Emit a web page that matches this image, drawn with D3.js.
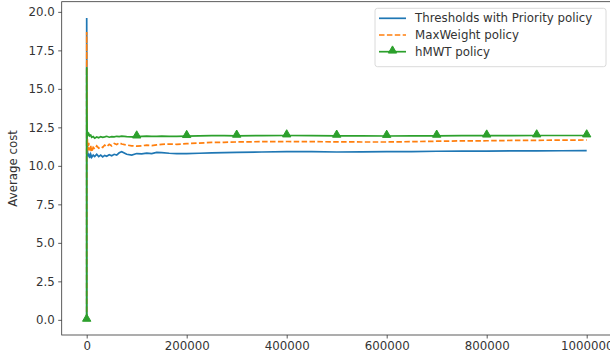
<!DOCTYPE html>
<html>
<head>
<meta charset="utf-8">
<script src="https://cdn.jsdelivr.net/npm/d3@7"></script>
<style>
  body { margin: 0; background: #fff; }
  svg { display: block; font-family: "DejaVu Sans", sans-serif; }
</style>
</head>
<body>
<div id="chart"></div>
<script>
// simulation step at which the running average was recorded
const steps = [
  0, 1, 300, 800, 1500, 2500, 4000, 6000, 8000, 10000,
  13000, 16000, 20000, 24000, 28000, 32000, 36000, 40000, 45000, 50000,
  55000, 60000, 65000, 70000, 80000, 90000, 100000, 110000, 120000, 130000,
  140000, 150000, 165000, 180000, 200000, 225000, 250000, 275000, 300000, 350000,
  400000, 450000, 500000, 550000, 600000, 650000, 700000, 750000, 800000, 850000,
  900000, 950000, 1000000
];

const thresholdsCost = [
  0, 19.6, 13.0, 11.6, 11.0, 10.6, 10.8, 10.5, 10.75, 10.55,
  10.7, 10.6, 10.75, 10.6, 10.7, 10.58, 10.68, 10.62, 10.72, 10.65,
  10.75, 10.7, 10.85, 10.92, 10.75, 10.7, 10.8, 10.78, 10.82, 10.8,
  10.88, 10.86, 10.82, 10.8, 10.8, 10.82, 10.84, 10.86, 10.88, 10.9,
  10.92, 10.93, 10.9, 10.91, 10.92, 10.93, 10.95, 10.96, 10.96, 10.97,
  10.97, 10.98, 10.99
];

const maxWeightCost = [
  0, 18.7, 15.0, 12.5, 11.5, 11.0, 11.5, 11.0, 11.3, 10.9,
  11.2, 11.1, 11.3, 11.15, 11.25, 11.2, 11.35, 11.25, 11.4, 11.3,
  11.45, 11.38, 11.5, 11.42, 11.35, 11.3, 11.28, 11.3, 11.35, 11.32,
  11.36, 11.4, 11.42, 11.4, 11.44, 11.48, 11.52, 11.53, 11.55, 11.57,
  11.58, 11.57, 11.56, 11.55, 11.55, 11.57, 11.6, 11.62, 11.63, 11.65,
  11.66, 11.67, 11.68
];

const hmwtCost = [
  0, 16.4, 13.5, 12.2, 12.15, 12.0, 12.1, 11.95, 12.0, 11.85,
  11.9, 11.8, 11.88, 11.82, 11.9, 11.85, 11.88, 11.92, 11.86, 11.9,
  11.88, 11.92, 11.9, 11.93, 11.9, 11.88, 11.9, 11.92, 11.93, 11.91,
  11.92, 11.93, 11.92, 11.91, 11.93, 11.95, 11.96, 11.96, 11.95, 11.96,
  11.97, 11.96, 11.95, 11.95, 11.94, 11.95, 11.95, 11.96, 11.96, 11.96,
  11.97, 11.97, 11.97
];

const seriesNames = ["Thresholds with Priority policy", "MaxWeight policy", "hMWT policy"];
const xTicks = [0, 200000, 400000, 600000, 800000, 1000000];
const yTicks = [0, 2.5, 5, 7.5, 10, 12.5, 15, 17.5, 20];

const width = 610;
const height = 364;
const plot = { left: 61.7, right: 611.7, top: 1.7, bottom: 335 };
const fontSize = 11.8;

const svg = d3.select("#chart").append("svg")
  .attr("width", width)
  .attr("height", height);

const x = d3.scaleLinear().domain([-50000, 1050000]).range([plot.left, plot.right]);
const y = d3.scaleLinear().domain([-0.984, 20.66]).range([plot.bottom, plot.top]);

// axes
const xAxis = svg.append("g")
  .attr("transform", `translate(0, ${plot.bottom})`)
  .call(d3.axisBottom(x).tickValues(xTicks).tickFormat(d3.format("d")).tickSize(3.5).tickPadding(3.5));
const yAxis = svg.append("g")
  .attr("transform", `translate(${plot.left}, 0)`)
  .call(d3.axisLeft(y).tickValues(yTicks).tickFormat(d3.format(".1f")).tickSize(3.5).tickPadding(3.5));

[xAxis, yAxis].forEach(g => {
  g.select(".domain").remove();
  g.selectAll(".tick line").attr("stroke", "#333").attr("stroke-width", 0.8);
  g.selectAll(".tick text").attr("fill", "#333").attr("font-size", fontSize).attr("font-family", "DejaVu Sans, sans-serif");
});

// spines (right one falls outside the picture)
svg.append("rect")
  .attr("x", plot.left).attr("y", plot.top)
  .attr("width", plot.right - plot.left).attr("height", plot.bottom - plot.top)
  .attr("fill", "none").attr("stroke", "#333").attr("stroke-width", 0.8);

svg.append("text")
  .attr("transform", `translate(13, ${(plot.top + plot.bottom) / 2}) rotate(-90)`)
  .attr("text-anchor", "middle")
  .attr("dy", "0.35em")
  .attr("font-size", fontSize)
  .attr("fill", "#333")
  .text("Average cost");

const series = [
  { name: seriesNames[0], values: thresholdsCost, color: "#1f77b4", dash: null, marker: false },
  { name: seriesNames[1], values: maxWeightCost, color: "#ff7f0e", dash: "5.5,2.4", marker: false },
  { name: seriesNames[2], values: hmwtCost, color: "#2ca02c", dash: null, marker: true }
];

const line = d3.line()
  .x(d => x(d[0]))
  .y(d => y(d[1]));

const tri = d3.symbol().type(d3.symbolTriangle).size(30);

series.forEach(s => {
  const pts = steps.map((st, i) => [st, s.values[i]]);
  svg.append("path")
    .datum(pts)
    .attr("d", line)
    .attr("fill", "none")
    .attr("stroke", s.color)
    .attr("stroke-width", 1.7)
    .attr("stroke-dasharray", s.dash);

  if (s.marker) {
    // one marker every 100000 steps
    svg.selectAll(null)
      .data(pts.filter(d => d[0] % 100000 === 0))
      .enter().append("path")
      .attr("d", tri)
      .attr("transform", d => `translate(${x(d[0])}, ${y(d[1]) - 1})`)
      .attr("fill", s.color)
      .attr("stroke", s.color)
      .attr("stroke-width", 1);
  }
});

// legend
const legend = svg.append("g").attr("transform", "translate(375, 8.3)");
legend.append("rect")
  .attr("width", 231).attr("height", 58.4)
  .attr("rx", 2.5)
  .attr("fill", "#fff").attr("fill-opacity", 0.8)
  .attr("stroke", "#d0d0d0").attr("stroke-width", 0.8);

series.forEach((s, i) => {
  const cy = 10 + i * 16.7;
  legend.append("line")
    .attr("x1", 4).attr("x2", 31)
    .attr("y1", cy).attr("y2", cy)
    .attr("stroke", s.color).attr("stroke-width", 1.7)
    .attr("stroke-dasharray", s.dash);
  if (s.marker) {
    legend.append("path")
      .attr("d", tri)
      .attr("transform", `translate(17.5, ${cy - 1})`)
      .attr("fill", s.color).attr("stroke", s.color).attr("stroke-width", 1);
  }
  legend.append("text")
    .attr("x", 40).attr("y", cy)
    .attr("dy", "0.35em")
    .attr("font-size", fontSize)
    .attr("fill", "#333")
    .text(s.name);
});
</script>
</body>
</html>
